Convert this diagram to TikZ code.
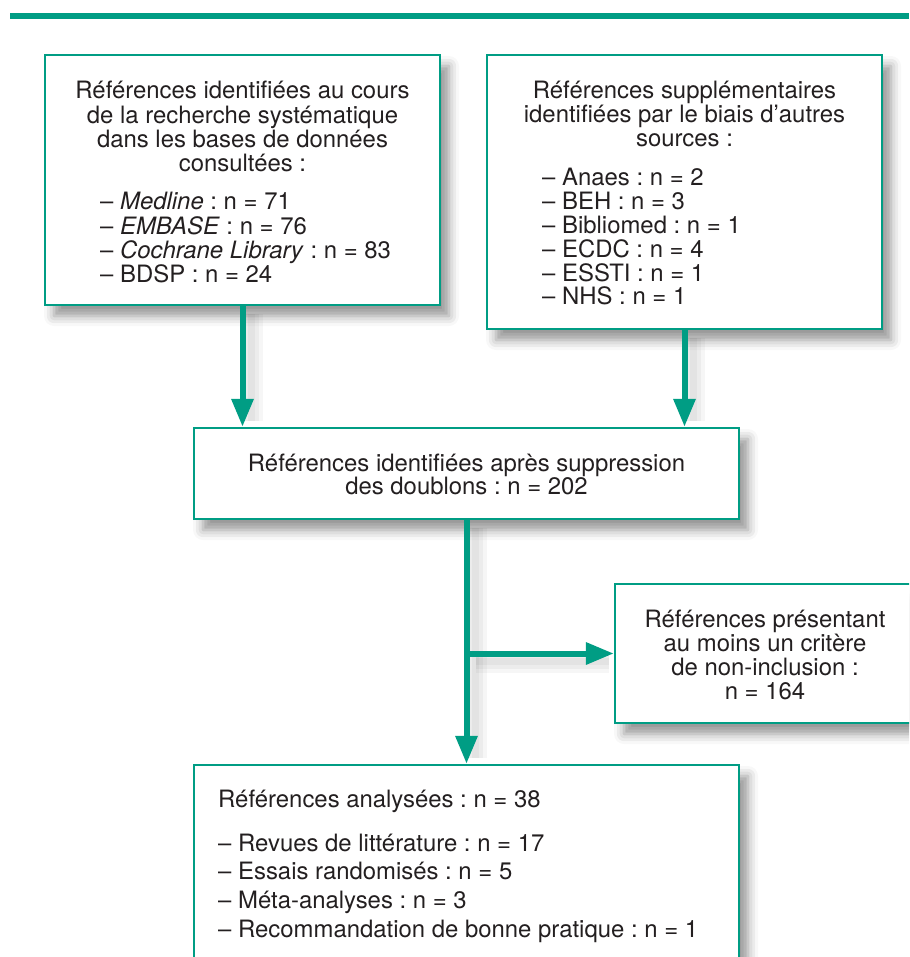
\documentclass[tikz,border=0pt]{standalone}
\usepackage{fontspec}
\setmainfont{TeX Gyre Heros}
\usetikzlibrary{arrows.meta,shadows.blur}
\definecolor{teal1}{RGB}{0,157,132}
\definecolor{ink}{RGB}{35,31,32}
\frenchspacing
\begin{document}
\frenchspacing
\begin{tikzpicture}[x=1pt,y=-1pt,
  box/.style={draw=teal1, line width=2.2pt, fill=white, rectangle, inner sep=0pt,
    blur shadow={shadow xshift=9pt, shadow yshift=-11pt, shadow blur radius=10pt, shadow opacity=42}},
  txt/.style={inner sep=0pt, text=ink, font=\fontsize{23.9}{24}\selectfont\frenchspacing},
  ash/.style={draw=black, draw opacity=#1, arrows=-, shorten >=14pt,
      transform canvas={xshift=9pt,yshift=-8pt}},
  arr/.style={draw=teal1, line width=6pt, -{Triangle[width=21pt,length=28pt]},
    preaction={ash=0.035, line width=22pt},
    preaction={ash=0.04, line width=14pt},
    preaction={ash=0.04, line width=7pt}}
]
\useasboundingbox (0,0) rectangle (909,957);
\clip (0,0) rectangle (909,957);

% top rule
\fill[teal1] (10,13) rectangle (909,19);

% boxes
\node[box, minimum width=395pt, minimum height=250pt] (A) at (242.5,180) {};
\node[box, minimum width=395pt, minimum height=274pt] (B) at (684.5,192) {};
\node[box, minimum width=545pt, minimum height=91pt] (C) at (466.5,473.5) {};
\node[box, minimum width=300pt, minimum height=139pt] (E) at (765,653.5) {};
\node[box, minimum width=545pt, minimum height=250pt] (D) at (466.5,890) {};

% texts box A
\foreach \t [count=\i from 0] in {Références identifiées au cours, de la recherche systématique, dans les bases de données, consultées :}
  \node[txt, anchor=base] (ah\i) at (242.5, 99+24.3*\i) {\t};
\foreach \t [count=\i from 0] in {– \textit{Medline} : n = 71, – \textit{EMBASE} : n = 76, – \textit{Cochrane Library} : n = 83, – BDSP : n = 24}
  \node[txt, anchor=base west] (al\i) at (100, 210+24.2*\i) {\t};

% texts box B
\foreach \t [count=\i from 0] in {Références supplémentaires, identifiées par le biais d’autres, sources :}
  \node[txt, anchor=base] (bh\i) at (684.5, 99+24*\i) {\t};
\foreach \t [count=\i from 0] in {– Anaes : n = 2, – BEH : n = 3, – Bibliomed : n = 1, – ECDC : n = 4, – ESSTI : n = 1, – NHS : n = 1}
  \node[txt, anchor=base west] (bl\i) at (542, 186+23.8*\i) {\t};

% texts box C
\foreach \t [count=\i from 0] in {Références identifiées après suppression, des doublons : n = 202}
  \node[txt, anchor=base] (ch\i) at (466.5, 471+23.5*\i) {\t};

% texts box E
\foreach \t [count=\i from 0] in {Références présentant, au moins un critère, de non-inclusion :, n = 164}
  \node[txt, anchor=base] (eh\i) at (765, 627+24.3*\i) {\t};

% texts box D
\node[txt, anchor=base west] (dh) at (218, 807) {Références analysées : n = 38};
\foreach \t [count=\i from 0] in {– Revues de littérature : n = 17, – Essais randomisés : n = 5, – Méta-analyses : n = 3, – Recommandation de bonne pratique : n = 1}
  \node[txt, anchor=base west] (dl\i) at (218, 851+28.7*\i) {\t};

% connectors
\draw[arr] (A.south) -- (A.south |- C.north);
\draw[arr] (B.south) -- (B.south |- C.north);
\coordinate (J) at (C.south |- E.west);
\draw[arr] (C.south) -- (D.north);
\draw[arr] (J) -- (E.west);
\end{tikzpicture}
\end{document}
